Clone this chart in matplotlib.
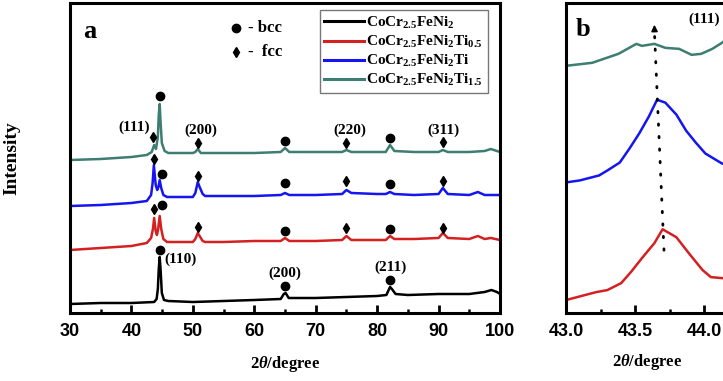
import matplotlib
matplotlib.use('Agg')
import matplotlib.pyplot as plt
from matplotlib.ticker import MultipleLocator, FixedLocator

plt.rcParams['font.family'] = 'Liberation Serif'
plt.rcParams['font.weight'] = 'bold'
plt.rcParams['mathtext.fontset'] = 'custom'
plt.rcParams['mathtext.rm'] = 'Liberation Serif:bold'
plt.rcParams['mathtext.bf'] = 'Liberation Serif:bold'
plt.rcParams['mathtext.it'] = 'Liberation Serif:italic:bold'

# ---- panel a : full XRD patterns (intensity in arbitrary units, stacked) ----
noms = ['CoCr$_{2.5}$FeNi$_{2}$', 'CoCr$_{2.5}$FeNi$_{2}$Ti$_{0.5}$',
        'CoCr$_{2.5}$FeNi$_{2}$Ti', 'CoCr$_{2.5}$FeNi$_{2}$Ti$_{1.5}$']
couleurs = ['#000000', '#d42020', '#1515f0', '#3d7d72']

x_noir = [30, 35, 40, 43.7, 44.1, 44.3, 44.45, 44.6, 44.75, 44.95, 45.3, 46, 50, 55, 60, 64.3,
          64.8, 65.1, 65.6, 70, 75, 80, 81.5, 82.1, 82.4, 83.0, 85, 90, 95, 97.5, 98.6, 99.5, 100]
y_noir = [11, 12, 12, 13, 16, 26, 46, 58, 45, 22, 15, 14, 13, 14, 15, 16,
          21, 22, 17, 17, 18, 19, 20, 28, 26, 21, 20, 21, 21, 23, 25, 23, 21]

x_rouge = [30, 35, 40, 42.5, 43.2, 43.5, 43.7, 43.95, 44.15, 44.35, 44.6, 44.85, 45.2, 45.8, 50,
           50.4, 50.8, 51.1, 51.6, 52, 55, 60, 64.3, 65, 65.7, 70, 74.3, 75, 75.8, 80, 81.4,
           82.1, 82.8, 86, 90, 90.7, 91.5, 95, 96.4, 97.5, 98.5, 100]
y_rouge = [65, 67, 69, 72, 77, 86, 97, 84, 80, 86, 99, 86, 76, 73, 73,
           76, 82, 79, 74, 73, 73, 74, 74, 77, 74, 74, 75, 79, 75, 75, 75,
           79, 76, 76, 77, 82, 77, 76, 79, 76, 77, 75]

x_bleu = [30, 35, 40, 42.5, 43.2, 43.45, 43.65, 43.95, 44.2, 44.4, 44.6, 44.85, 45.2, 45.8, 50,
          50.4, 50.8, 51.1, 51.6, 52, 55, 60, 64.3, 65, 65.7, 70, 74.3, 75, 75.8, 80, 81.4,
          82.1, 82.8, 86, 90, 90.7, 91.5, 95, 96.4, 97.5, 100]
y_bleu = [109, 110, 112, 114, 120, 132, 150, 130, 125, 128, 135, 127, 120, 118, 118,
          122, 133, 128, 121, 119, 119, 119, 120, 122, 120, 120, 121, 125, 122, 121, 121,
          123, 121, 120, 121, 127, 121, 120, 123, 120, 120]

x_vert = [30, 35, 40, 42.5, 43.3, 43.7, 44.0, 44.3, 44.45, 44.6, 44.75, 44.95, 45.4, 46, 50,
          50.4, 50.8, 51.3, 55, 60, 64.3, 65, 65.7, 70, 74.3, 75, 75.8, 80, 81.4, 82.1, 82.8,
          86, 90, 90.7, 91.5, 95, 97.5, 98.5, 99.5, 100]
y_vert = [155, 156, 158, 160, 163, 170, 166, 178, 200, 211, 192, 172, 164, 162, 162,
          163, 166, 162, 162, 162, 163, 167, 163, 163, 163, 165, 163, 163, 163, 170, 164,
          163, 163, 165, 163, 163, 164, 166, 164, 163]

# phase markers (bcc = circle, fcc = diamond)
bcc_x = {'noir': [44.6, 65.0, 82.1], 'rouge': [44.9, 65.0, 82.1],
         'bleu': [44.9, 65.0, 82.1], 'vert': [44.6, 65.0, 82.1]}
bcc_y = {'noir': [65, 29, 35], 'rouge': [110, 84, 86],
         'bleu': [141, 132, 131], 'vert': [219, 174, 177]}
fcc_x = {'rouge': [43.6, 50.8, 75.0, 90.7], 'bleu': [43.6, 50.8, 75.0, 90.7],
         'vert': [43.5, 50.8, 75.0, 90.7]}
fcc_y = {'rouge': [106, 88, 87, 87], 'bleu': [156, 139, 134, 134],
         'vert': [178, 172, 172, 173]}

etiquettes = ['(111)', '(200)', '(220)', '(311)', '(110)', '(200)', '(211)']
etiq_x = [40.5, 51.3, 75.5, 90.8, 45.4, 65.0, 82.2]
etiq_y = [188, 185, 185, 185, 56, 42, 48]

# ---- panel b : zoom on fcc (111) ----
xb_rouge = [43.0, 43.22, 43.30, 43.40, 43.47, 43.55, 43.64, 43.70, 43.80, 43.89, 43.99, 44.05,
            44.13, 44.25, 44.4]
yb_rouge = [13, 21, 23, 30, 41, 55, 70, 84, 76, 60, 43, 36, 35, 33, 35]
xb_bleu = [43.0, 43.1, 43.24, 43.3, 43.39, 43.46, 43.53, 43.6, 43.66, 43.72, 43.8, 43.87,
           43.94, 44.01, 44.13, 44.25, 44.4]
yb_bleu = [131, 133, 138, 143, 151, 165, 180, 197, 214, 211, 199, 183, 171, 160, 150, 147, 150]
xb_vert = [43.0, 43.19, 43.38, 43.51, 43.55, 43.64, 43.72, 43.82, 43.91, 43.98, 44.06, 44.13,
           44.25, 44.35]
yb_vert = [248, 251, 260, 270, 268, 270, 266, 265, 259, 260, 265, 271, 285, 300]
fleche_x = [43.71, 43.64]
fleche_y = [63, 285]
ticks_b = [43.0, 43.5, 44.0]

W, H = 723, 381
fig = plt.figure(figsize=(W / 100, H / 100), dpi=100)
ax = fig.add_axes([70 / W, (H - 313) / H, 430 / W, 310 / H])
axb = fig.add_axes([566 / W, (H - 313) / H, 276 / W, 310 / H])

series = [(x_noir, y_noir), (x_rouge, y_rouge), (x_bleu, y_bleu), (x_vert, y_vert)]
for (xs, ys), c, n in zip(series, couleurs, noms):
    ax.plot(xs, ys, color=c, lw=1.8, label=n)

for cle in ['noir', 'rouge', 'bleu', 'vert']:
    ax.plot(bcc_x[cle], bcc_y[cle], 'o', color='k', ms=6, ls='none')
    if cle in fcc_x:
        ax.plot(fcc_x[cle], fcc_y[cle], 'd', color='k', ms=5.5, ls='none')

for t, xx, yy in zip(etiquettes, etiq_x, etiq_y):
    ha = 'left' if t == '(110)' else 'center'
    ax.text(xx, yy, t, ha=ha, va='center', fontsize=11, fontweight='bold')

ax.text(33.2, 284, 'a', fontsize=19, fontweight='bold', ha='center', va='center')
ax.plot([57.0], [287], 'o', color='k', ms=6)
ax.text(58.9, 287, '- bcc', fontsize=12, fontweight='bold', va='center')
ax.plot([57.0], [263], 'd', color='k', ms=5.5)
ax.text(58.9, 263, '-  fcc', fontsize=12, fontweight='bold', va='center')

leg = ax.legend(loc='upper left', bbox_to_anchor=(0.581, 0.977), borderaxespad=0,
                fontsize=11, handlelength=2.6, handletextpad=0.15, labelspacing=0.2,
                borderpad=0.3, fancybox=False, framealpha=1, edgecolor='#777777')
leg.get_frame().set_linewidth(1.0)
for ligne in leg.get_lines():
    ligne.set_linewidth(2.2)

ax.set_xlim(30, 100)
ax.set_ylim(2, 312)
ax.xaxis.set_major_locator(MultipleLocator(10))
ax.xaxis.set_minor_locator(MultipleLocator(5))
ax.set_xlabel(r'2$\theta$/degree', fontsize=12, fontweight='bold', labelpad=10)
ax.set_ylabel('Intensity', fontsize=14, fontweight='bold')
ax.yaxis.set_label_coords(-50 / 430, 0.5)

# panel b
axb.plot(xb_rouge, yb_rouge, color=couleurs[1], lw=1.8)
axb.plot(xb_bleu, yb_bleu, color=couleurs[2], lw=1.8)
axb.plot(xb_vert, yb_vert, color=couleurs[3], lw=1.8)
axb.plot(fleche_x, fleche_y, color='k', ls=(0, (0.5, 4.0)), lw=2.0, dash_capstyle='round')
axb.annotate('', xy=(43.64, 292), xytext=(43.642, 280),
             arrowprops=dict(arrowstyle='-|>', color='k', lw=1.2, mutation_scale=9))
axb.text(43.12, 284, 'b', fontsize=19, fontweight='bold', ha='center', va='center')
axb.text(44.0, 295, '(111)', fontsize=11, fontweight='bold', ha='center', va='center')
axb.set_xlim(43.0, 45.0)
axb.set_ylim(0, 311)
axb.xaxis.set_major_locator(FixedLocator(ticks_b))
axb.xaxis.set_minor_locator(FixedLocator([43.25, 43.75, 44.25, 44.75]))
axb.xaxis.set_major_formatter(matplotlib.ticker.FormatStrFormatter('%.1f'))
fig.text(647 / W, 1 - 362 / H, r'2$\theta$/degree', fontsize=12, fontweight='bold',
         ha='center', va='center')

for a in (ax, axb):
    a.set_yticks([])
    for s in a.spines.values():
        s.set_linewidth(2.2)
    a.tick_params(axis='x', which='major', direction='in', length=6, width=2, pad=7,
                  top=False, labelsize=13)
    a.tick_params(axis='x', which='minor', direction='in', length=3, width=1.8, top=False)
    for lab in a.get_xticklabels():
        lab.set_fontfamily('Liberation Sans')
        lab.set_fontweight('bold')

fig.savefig('out.png', dpi=100)
